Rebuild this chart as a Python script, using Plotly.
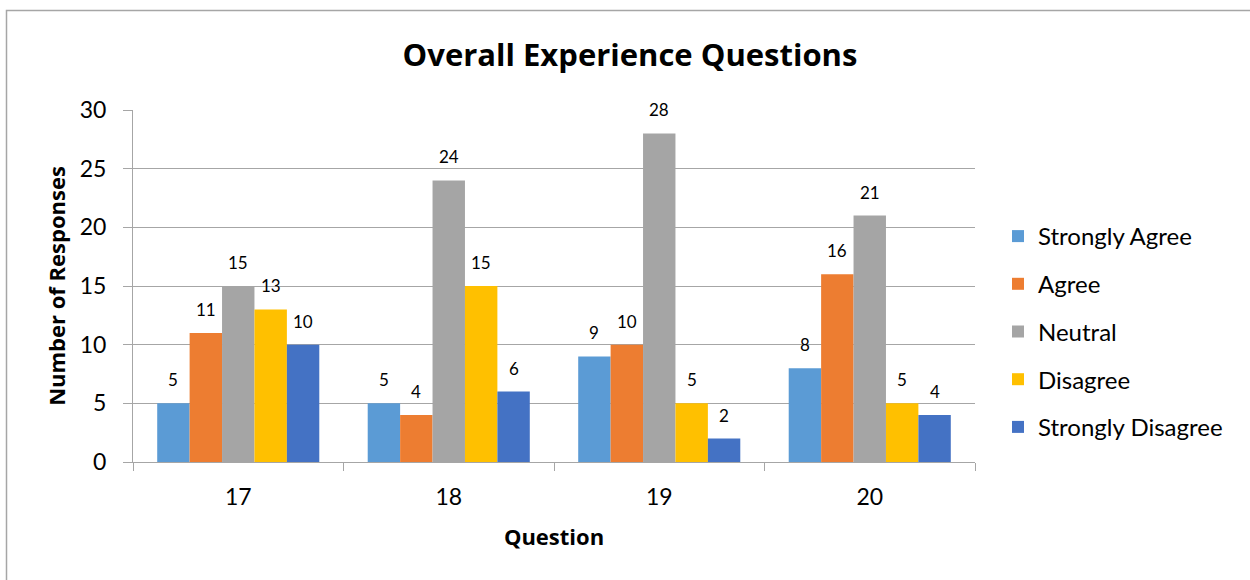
import plotly.graph_objects as go

questions = ["17", "18", "19", "20"]
series_names = ["Strongly Agree", "Agree", "Neutral", "Disagree", "Strongly Disagree"]
strongly_agree = [5, 5, 9, 8]
agree = [11, 4, 10, 16]
neutral = [15, 24, 28, 21]
disagree = [13, 15, 5, 5]
strongly_disagree = [10, 6, 2, 4]
colors = ["#5B9BD5", "#ED7D31", "#A5A5A5", "#FFC000", "#4472C4"]
y_ticks = [0, 5, 10, 15, 20, 25, 30]

series_values = [strongly_agree, agree, neutral, disagree, strongly_disagree]

FONT = "Lato"
BOLD = "Open Sans"
BARGAP = 0.23
W, H = 1250, 580
L, R, T, B = 133, 275, 110, 118

fig = go.Figure()
for k, (name, vals, col) in enumerate(zip(series_names, series_values, colors)):
    fig.add_trace(go.Bar(
        name=name, x=questions, y=vals, marker_color=col,
        marker_line_width=0, legendgroup=name,
    ))

n = len(series_names)
bw = (1 - BARGAP) / n
annotations = []
for k, vals in enumerate(series_values):
    for j, v in enumerate(vals):
        annotations.append(dict(
            x=j + (k - (n - 1) / 2) * bw, y=v, xref="x", yref="y",
            text=str(v), showarrow=False, yanchor="bottom", yshift=11,
            font=dict(family=FONT, size=17, color="#000000"),
        ))

plot_w = W - L - R
plot_h = H - T - B

fig.update_layout(
    width=W, height=H,
    margin=dict(l=L, r=R, t=T, b=B, autoexpand=False),
    paper_bgcolor="white", plot_bgcolor="white",
    barmode="group", bargap=BARGAP, bargroupgap=0,
    font=dict(family=FONT, size=23, color="#000000"),
    title=dict(text="<b>Overall Experience Questions</b>", x=0.504, xref="container",
               xanchor="center", y=1 - 55 / H, yref="container", yanchor="middle",
               font=dict(family=BOLD, size=31, color="#000000")),
    legend=dict(x=(998 - L) / plot_w, xanchor="left", y=(H - B - 214) / plot_h,
                yanchor="top", font=dict(family=FONT, size=24), tracegroupgap=13.5,
                traceorder="grouped", itemwidth=30, bgcolor="rgba(0,0,0,0)"),
    annotations=annotations,
    xaxis=dict(
        type="category", tickson="boundaries", ticks="outside", ticklen=8,
        tickcolor="#A6A6A6", showline=True, linecolor="#A6A6A6", linewidth=1,
        showgrid=False, ticklabelstandoff=14,
        tickfont=dict(family=FONT, size=23),
        title=dict(text="<b>Question</b>", standoff=21, font=dict(family=BOLD, size=22)),
    ),
    yaxis=dict(
        range=[0, 30], tickvals=y_ticks, ticks="outside", ticklen=9,
        tickcolor="#A6A6A6", showline=True, linecolor="#A6A6A6", linewidth=1,
        showgrid=True, gridcolor="#A6A6A6", gridwidth=1, zeroline=False,
        ticklabelstandoff=12, tickfont=dict(family=FONT, size=23),
        title=dict(text="<b>Number of Responses</b>", standoff=8,
                   font=dict(family=BOLD, size=22)),
    ),
    shapes=[dict(type="rect", xref="paper", yref="paper",
                 x0=(6.5 - L) / plot_w, x1=(W + 20 - L) / plot_w,
                 y0=(H - B - (H + 20)) / plot_h, y1=(H - B - 10.5) / plot_h,
                 line=dict(color="#A6A6A6", width=1.5), layer="below")],
)

fig.write_html("out.html")
